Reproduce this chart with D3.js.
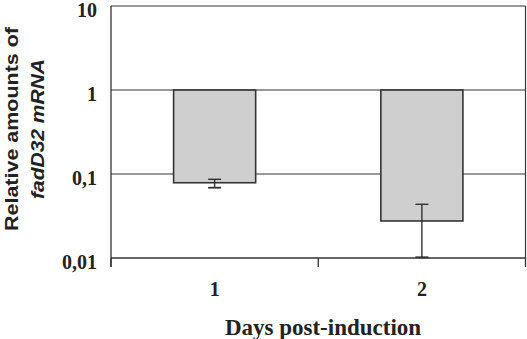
<!DOCTYPE html>
<html>
<head>
<meta charset="utf-8">
<script src="https://cdn.jsdelivr.net/npm/d3@7/dist/d3.min.js"></script>
<style>
  html, body { margin: 0; padding: 0; background: #fff; }
  svg { display: block; }
</style>
</head>
<body>
<script>
const categories = ["1", "2"];
const values = [0.0787, 0.0276];
const errLow = [0.0687, 0.0102];
const errHigh = [0.0865, 0.0436];
const yTicks = [0.01, 0.1, 1, 10];
const yTickLabels = ["0,01", "0,1", "1", "10"];
const gridValues = [0.1, 1];
const baseValue = 1;

const W = 527, H = 339;
const m = { left: 111, right: 1.5, top: 6, bottom: 81 };
const x0 = m.left, x1 = W - m.right, y0 = m.top, y1 = H - m.bottom;
const ink = "#333";

const svg = d3.select("body").append("svg").attr("width", W).attr("height", H);

const x = d3.scaleBand().domain(categories).range([x0, x1]).paddingInner(0.604).paddingOuter(0.302);
const y = d3.scaleLog().domain([0.01, 10]).range([y1, y0]);

// frame top & right
svg.append("line").attr("x1", x0).attr("x2", x1).attr("y1", y(10)).attr("y2", y(10))
  .attr("stroke", ink).attr("stroke-width", 1.2);
svg.append("line").attr("x1", x1).attr("x2", x1).attr("y1", y(10)).attr("y2", y1)
  .attr("stroke", ink).attr("stroke-width", 1.2);

// gridlines
svg.selectAll("line.grid").data(gridValues).enter().append("line")
  .attr("class", "grid")
  .attr("x1", x0).attr("x2", x1)
  .attr("y1", d => y(d)).attr("y2", d => y(d))
  .attr("stroke", ink).attr("stroke-width", 1.2);

// bars from 1 downward
svg.selectAll("rect.bar").data(values).enter().append("rect")
  .attr("class", "bar")
  .attr("x", (d, i) => x(categories[i]))
  .attr("width", x.bandwidth())
  .attr("y", y(baseValue))
  .attr("height", d => y(d) - y(baseValue))
  .attr("fill", "#cfcfcf").attr("stroke", ink).attr("stroke-width", 1.6);

// error bars
const cap = 6.5;
const eg = svg.selectAll("g.err").data(values).enter().append("g").attr("class", "err");
eg.append("line")
  .attr("x1", (d, i) => x(categories[i]) + x.bandwidth() / 2)
  .attr("x2", (d, i) => x(categories[i]) + x.bandwidth() / 2)
  .attr("y1", (d, i) => y(errHigh[i])).attr("y2", (d, i) => y(errLow[i]))
  .attr("stroke", ink).attr("stroke-width", 1.4);
eg.append("line")
  .attr("x1", (d, i) => x(categories[i]) + x.bandwidth() / 2 - cap)
  .attr("x2", (d, i) => x(categories[i]) + x.bandwidth() / 2 + cap)
  .attr("y1", (d, i) => y(errHigh[i])).attr("y2", (d, i) => y(errHigh[i]))
  .attr("stroke", ink).attr("stroke-width", 1.4);
eg.append("line")
  .attr("x1", (d, i) => x(categories[i]) + x.bandwidth() / 2 - cap)
  .attr("x2", (d, i) => x(categories[i]) + x.bandwidth() / 2 + cap)
  .attr("y1", (d, i) => y(errLow[i])).attr("y2", (d, i) => y(errLow[i]))
  .attr("stroke", ink).attr("stroke-width", 1.8);

// y axis
const yAxis = d3.axisLeft(y).tickValues(yTicks).tickSize(0).tickPadding(14)
  .tickFormat((d, i) => yTickLabels[i]);
const gy = svg.append("g").attr("transform", `translate(${x0},0)`).call(yAxis);
gy.select(".domain").remove();
gy.append("line").attr("x1", 0).attr("x2", 0).attr("y1", y(10)).attr("y2", y1 + 9)
  .attr("stroke", ink).attr("stroke-width", 1.3);
gy.selectAll("text")
  .attr("font-family", "'Liberation Serif', 'Times New Roman', serif")
  .attr("font-weight", "bold").attr("font-size", 20).attr("fill", "#222")
  .attr("dy", "0.5em");

// x axis
const xAxis = d3.axisBottom(x).tickSize(0).tickPadding(24);
const gx = svg.append("g").attr("transform", `translate(0,${y1})`).call(xAxis);
gx.select(".domain").remove();
gx.append("line").attr("x1", x0).attr("x2", x1).attr("y1", 0).attr("y2", 0)
  .attr("stroke", ink).attr("stroke-width", 1.4);
const boundaries = [x0, (x(categories[0]) + x.bandwidth() + x(categories[1])) / 2, x1];
gx.selectAll("line.sep").data(boundaries).enter().append("line")
  .attr("class", "sep")
  .attr("x1", d => d).attr("x2", d => d).attr("y1", 0).attr("y2", 9)
  .attr("stroke", ink).attr("stroke-width", 1.3);
gx.selectAll("text")
  .attr("font-family", "'Liberation Serif', 'Times New Roman', serif")
  .attr("font-weight", "bold").attr("font-size", 20).attr("fill", "#222")
  .attr("dy", "0.71em");

// x title
svg.append("text")
  .attr("x", 323).attr("y", 335)
  .attr("text-anchor", "middle")
  .attr("font-family", "'Liberation Serif', 'Times New Roman', serif")
  .attr("font-weight", "bold").attr("font-size", 23).attr("fill", "#222")
  .text("Days post-induction");

// y title
const yt = svg.append("text")
  .attr("transform", "translate(17.5,129) rotate(-90)")
  .attr("text-anchor", "middle")
  .attr("font-family", "'Liberation Sans', Arial, sans-serif")
  .attr("font-weight", "bold").attr("font-size", 19).attr("fill", "#222");
yt.append("tspan").attr("x", 0).attr("y", 0)
  .attr("textLength", 204).attr("lengthAdjust", "spacingAndGlyphs")
  .text("Relative amounts of");
yt.append("tspan").attr("x", 0).attr("y", 26).attr("font-style", "italic")
  .attr("textLength", 140).attr("lengthAdjust", "spacingAndGlyphs")
  .text("fadD32 mRNA");
</script>
</body>
</html>
